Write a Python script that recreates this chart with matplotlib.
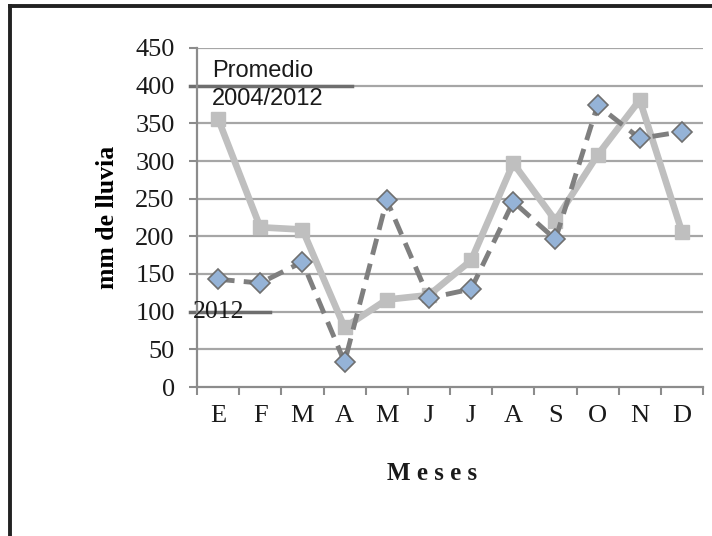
import matplotlib
matplotlib.use("Agg")
import matplotlib.pyplot as plt
from matplotlib.lines import Line2D
import numpy as np

meses = ["E", "F", "M", "A", "M", "J", "J", "A", "S", "O", "N", "D"]
lluvia_2012 = [143, 138, 166, 33, 248, 118, 130, 246, 196, 374, 330, 339]
promedio = [356, 212, 209, 79, 116, 122, 168, 297, 221, 308, 381, 206]
y_ticks = [0, 50, 100, 150, 200, 250, 300, 350, 400, 450]

serif = ["Liberation Serif", "DejaVu Serif"]
sans = ["Liberation Sans", "DejaVu Sans"]
grid_c = "#a6a6a6"
axis_c = "#8c8c8c"

fig = plt.figure(figsize=(7.12, 5.36), dpi=100)
ax = fig.add_axes([197 / 712, 1 - 387 / 536, 506 / 712, 339 / 536])

x = np.arange(len(meses))
ax.plot(x, promedio, color="#bfbfbf", lw=4.8, marker="s", ms=10.5,
        mfc="#bfbfbf", mec="#bfbfbf", zorder=3, solid_joinstyle="miter")
ax.plot(x, lluvia_2012, color="#7f7f7f", lw=3.5, ls=(0, (3.4, 1.9)),
        marker="D", ms=10, mfc="#95b3d7", mec="#6f6f6f", mew=1.2, zorder=4)

ax.set_xlim(-0.5, len(meses) - 0.5)
ax.set_ylim(0, 450)
ax.set_yticks(y_ticks)
ax.set_yticklabels([str(v) for v in y_ticks], family=serif, fontsize=19, color="#1a1a1a")
ax.set_xticks(x)
ax.set_xticklabels(meses, family=serif, fontsize=19, color="#1a1a1a")
ax.tick_params(axis="x", length=0, pad=13)
ax.set_xticks(np.arange(len(meses) + 1) - 0.5, minor=True)
ax.tick_params(axis="x", which="minor", length=6, width=1.5, color=axis_c, direction="out")
ax.tick_params(axis="y", length=6, width=1.5, color=axis_c, direction="out", pad=10)

for v in y_ticks[1:]:
    ax.axhline(v, color=grid_c, lw=1.6, zorder=1)
for side in ["top", "right"]:
    ax.spines[side].set_visible(False)
for side in ["left", "bottom"]:
    ax.spines[side].set_color(axis_c)
    ax.spines[side].set_linewidth(1.6)

ax.set_ylabel("mm de lluvia", family=serif, fontsize=18.5, fontweight="bold", labelpad=12)
fig.text(432 / 712, 1 - 473 / 536, "M e s e s", family=serif, fontsize=18,
         fontweight="bold", ha="center", va="center", color="#1a1a1a")

# leftover legend entries drawn over the plot
tr = ax.get_yaxis_transform()
ax.plot([-0.014, 0.306], [400, 400], color="#6e6e6e", lw=2.5, transform=tr, clip_on=False, zorder=2)
ax.text(0.03, 405, "Promedio", family=sans, fontsize=17, color="#1a1a1a", transform=tr, va="bottom")
ax.text(0.03, 397, "2004/2012", family=sans, fontsize=17, color="#1a1a1a", transform=tr, va="top")
ax.plot([-0.014, 0.144], [100, 100], color="#6e6e6e", lw=2.5, transform=tr, clip_on=False, zorder=2)
ax.text(-0.008, 100, "2012", family=serif, fontsize=18.5, color="#1a1a1a", transform=tr, va="center")

# outer frame
fig.add_artist(Line2D([10 / 712, 10 / 712], [0, 1 - 6 / 536], color="#222222", lw=2.8))
fig.add_artist(Line2D([10 / 712, 1], [1 - 6 / 536, 1 - 6 / 536], color="#222222", lw=2.8))

fig.savefig("out.png", dpi=100)
